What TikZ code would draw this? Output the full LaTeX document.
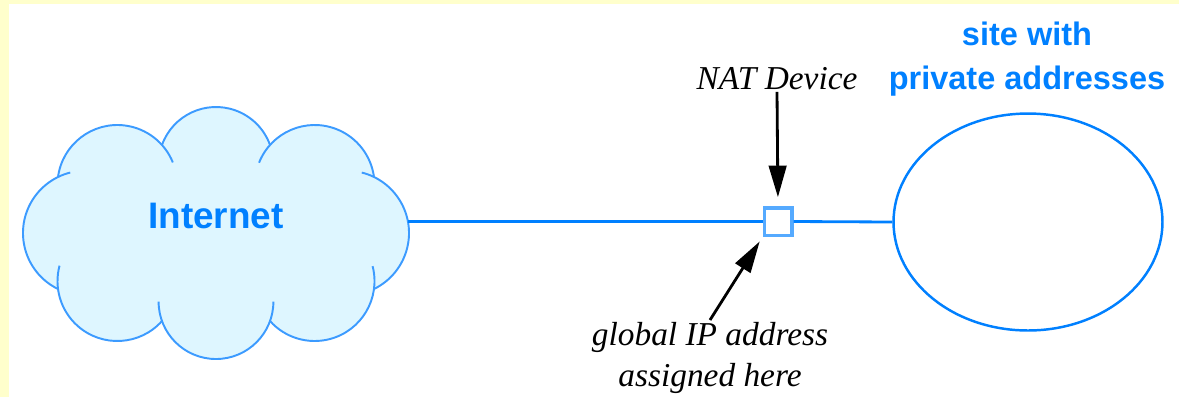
\documentclass[tikz,border=0pt]{standalone}
\usepackage{fontspec}
\setmainfont{Liberation Serif}
\setsansfont{Liberation Sans}
\usetikzlibrary{shapes.geometric,arrows.meta}
\definecolor{netblue}{RGB}{0,128,255}
\definecolor{puffblue}{RGB}{60,155,255}
\definecolor{puffill}{RGB}{222,246,255}
\definecolor{boxblue}{RGB}{85,170,255}
\definecolor{paper}{RGB}{255,255,204}

\begin{document}
\begin{tikzpicture}[x=0.02cm,y=-0.02cm,
    sitetext/.style={text=netblue,font=\sffamily\bfseries\fontsize{18.5}{25}\selectfont,align=center,inner sep=1pt},
    note/.style={font=\itshape\fontsize{19}{23.3}\selectfont,align=center,inner sep=1pt},
    puff/.style={draw=puffblue,line width=1.1pt},
    link/.style={draw=netblue,line width=1.6pt},
    pointer/.style={-{Triangle[length=18pt,width=10pt]},line width=1.6pt}]
  % page
  \useasboundingbox[fill=paper] (0,0) rectangle (1179,397);
  \fill[white] (9,4) rectangle (1179,397);
  % cloud
  \fill[puffill] (58,177) arc[start angle=187.5,end angle=318.25,radius=59.85]
    arc[start angle=199.8,end angle=340.2,radius=57.4]
    arc[start angle=221.75,end angle=352.47,radius=59.85]
    arc[start angle=-64,end angle=64,radius=62.3]
    arc[start angle=7.53,end angle=138.25,radius=59.85]
    arc[start angle=19.8,end angle=160.2,radius=57.4]
    arc[start angle=41.75,end angle=172.47,radius=59.85]
    arc[start angle=116,end angle=244,radius=62.3] -- cycle;
  \foreach \cx/\cy/\r/\a/\b in {117.35/184.85/59.85/187.5/338, 216/164.4/57.4/199.8/340.2,
      314.65/184.85/59.85/201.75/352.47, 346.7/233/62.3/-76/64, 314.65/281.15/59.85/-14.5/138.25,
      216/301.6/57.4/0/180, 117.35/281.15/59.85/41.75/195, 85.3/233/62.3/116/256}
    \draw[puff] (\cx,\cy) ++(\a:\r) arc[start angle=\a,end angle=\b,radius=\r];
  \coordinate (inetedge) at (408,221.5);
  % nodes
  \node (inet) [sitetext,font=\sffamily\bfseries\fontsize{21}{25}\selectfont] at (216,215.5) {Internet};
  \node (nat) [draw=boxblue,line width=2pt,fill=white,minimum size=0.55cm,inner sep=0pt] at (778,221.5) {};
  \node (site) [ellipse,draw=netblue,line width=1.4pt,minimum width=5.38cm,minimum height=4.34cm] at (1028,222) {};
  \node (sitelbl) [sitetext,anchor=north] at (1027,20) {site with\\private addresses};
  \node (dev) [note] at (777,78.5) {NAT Device};
  \node (glob) [note,anchor=north] at (710,320) {global IP address\\assigned here};
  % links
  \draw[link] (nat.west) -- (inetedge);
  \draw[link] (nat.east) -- (site.west);
  \draw[pointer,shorten >=5pt] (dev.south) -- (nat.north);
  \draw[pointer,shorten >=3pt] (glob.north) -- (nat.south west);
\end{tikzpicture}
\end{document}
